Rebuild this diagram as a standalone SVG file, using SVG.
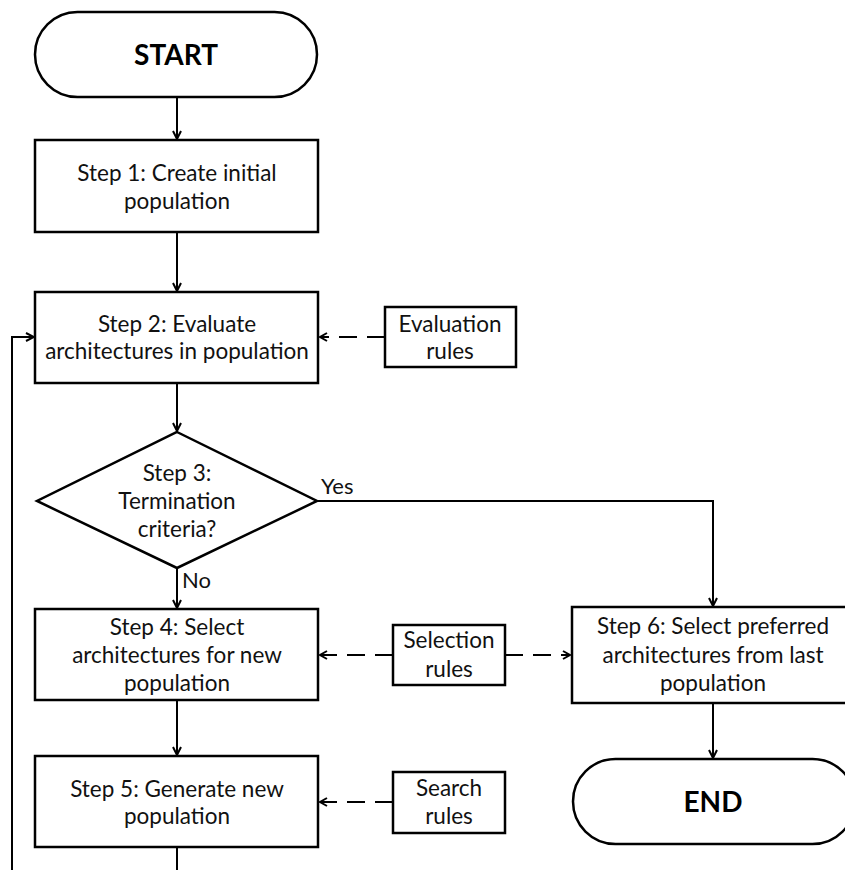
<svg xmlns="http://www.w3.org/2000/svg" width="845" height="870" viewBox="0 0 845 870">
<style>
.shape{fill:#fff;stroke:#000;stroke-width:2.5}
.t{font-family:Lato,"Open Sans","Liberation Sans",sans-serif;font-size:22.5px;fill:#111;text-anchor:middle}
.b{font-family:Lato,"Open Sans","Liberation Sans",sans-serif;font-size:28px;font-weight:bold;fill:#000;text-anchor:middle}
.l{font-family:Lato,"Open Sans","Liberation Sans",sans-serif;font-size:22px;fill:#111}
.c{fill:none;stroke:#000;stroke-width:2}
.d{fill:none;stroke:#000;stroke-width:2;stroke-dasharray:18 10}
</style>
<defs>
<marker id="ah" viewBox="0 0 10 10" refX="9" refY="5" markerWidth="10" markerHeight="10" markerUnits="userSpaceOnUse" orient="auto">
<path d="M1,1 L9,5 L1,9" fill="none" stroke="#000" stroke-width="2"/>
</marker>
</defs>
<rect width="845" height="870" fill="#fff"/>
<g id="connectors">
<line class="c" x1="177" y1="97" x2="177" y2="139" marker-end="url(#ah)"/>
<line class="c" x1="177" y1="232" x2="177" y2="291" marker-end="url(#ah)"/>
<line class="c" x1="177" y1="383" x2="177" y2="431" marker-end="url(#ah)"/>
<line class="c" x1="177" y1="568" x2="177" y2="608" marker-end="url(#ah)"/>
<line class="c" x1="177" y1="700" x2="177" y2="755" marker-end="url(#ah)"/>
<line class="c" x1="177" y1="847" x2="177" y2="870"/>
<polyline class="c" points="12,870 12,337 34,337" marker-end="url(#ah)"/>
<polyline class="c" points="317,501 713,501 713,606" marker-end="url(#ah)"/>
<line class="c" x1="713" y1="703" x2="713" y2="758" marker-end="url(#ah)"/>
<line class="d" x1="385" y1="337" x2="321" y2="337"/>
<path class="c" d="M327,333 L320,337 L327,341"/>
<line class="d" x1="393" y1="655" x2="321" y2="655"/>
<path class="c" d="M327,651 L320,655 L327,659"/>
<line class="d" x1="505" y1="655" x2="569" y2="655"/>
<path class="c" d="M563,651 L570,655 L563,659"/>
<line class="d" x1="393" y1="802" x2="321" y2="802"/>
<path class="c" d="M327,798 L320,802 L327,806"/>
<text class="l" x="321" y="494">Yes</text>
<text class="l" x="182" y="588">No</text>
</g>
<g id="start">
<rect class="shape" x="35" y="12" width="282" height="85" rx="42.5"/>
<text class="b" x="176" y="65">START</text>
</g>
<g id="step1">
<rect class="shape" x="35" y="140" width="283" height="92"/>
<text class="t" x="177" y="181">Step 1: Create initial</text>
<text class="t" x="177" y="209">population</text>
</g>
<g id="step2">
<rect class="shape" x="35" y="292" width="283" height="91"/>
<text class="t" x="177" y="332">Step 2: Evaluate</text>
<text class="t" x="177" y="359">architectures in population</text>
</g>
<g id="evaluation-rules">
<rect class="shape" x="385" y="307" width="131" height="60"/>
<text class="t" x="450" y="332">Evaluation</text>
<text class="t" x="450" y="359">rules</text>
</g>
<g id="step3">
<polygon class="shape" points="177,432 317,501 177,568 37,501"/>
<text class="t" x="177" y="481">Step 3:</text>
<text class="t" x="177" y="509">Termination</text>
<text class="t" x="177" y="537">criteria?</text>
</g>
<g id="step4">
<rect class="shape" x="35" y="609" width="283" height="91"/>
<text class="t" x="177" y="635">Step 4: Select</text>
<text class="t" x="177" y="663">architectures for new</text>
<text class="t" x="177" y="691">population</text>
</g>
<g id="selection-rules">
<rect class="shape" x="393" y="625" width="112" height="60"/>
<text class="t" x="449" y="648">Selection</text>
<text class="t" x="449" y="677">rules</text>
</g>
<g id="step5">
<rect class="shape" x="35" y="756" width="283" height="91"/>
<text class="t" x="177" y="797">Step 5: Generate new</text>
<text class="t" x="177" y="824">population</text>
</g>
<g id="search-rules">
<rect class="shape" x="393" y="772" width="112" height="61"/>
<text class="t" x="449" y="796">Search</text>
<text class="t" x="449" y="824">rules</text>
</g>
<g id="step6">
<rect class="shape" x="572" y="607" width="282" height="96"/>
<text class="t" x="713" y="634">Step 6: Select preferred</text>
<text class="t" x="713" y="663">architectures from last</text>
<text class="t" x="713" y="691">population</text>
</g>
<g id="end">
<rect class="shape" x="573" y="759" width="282" height="85" rx="42.5"/>
<text class="b" x="713" y="812">END</text>
</g>
</svg>
